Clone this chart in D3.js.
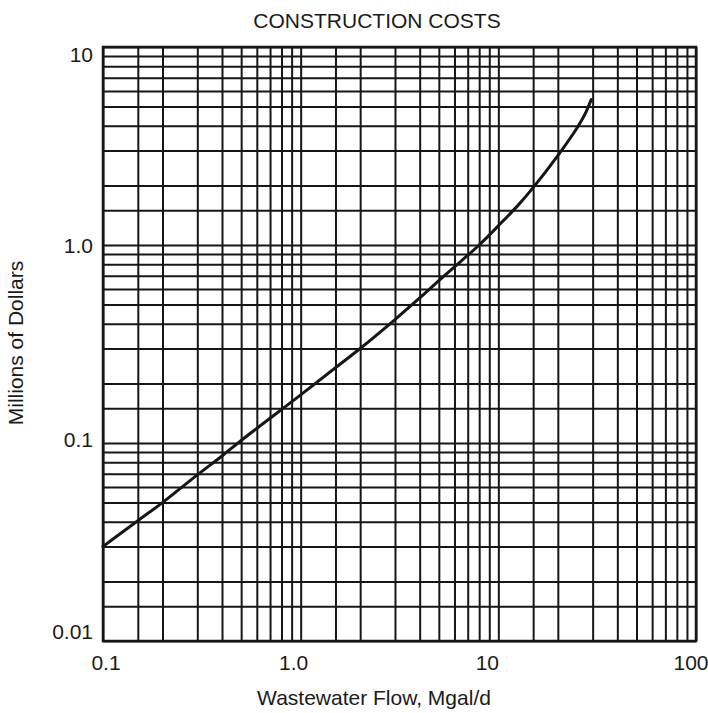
<!DOCTYPE html>
<html>
<head>
<meta charset="utf-8">
<script src="https://cdn.jsdelivr.net/npm/d3@7"></script>
<style>
  html, body { margin: 0; padding: 0; background: #fff; }
  svg { display: block; }
  text { font-family: "Liberation Sans", Arial, Helvetica, sans-serif; fill: #1a1a1a; }
</style>
</head>
<body>
<svg id="chart" width="708" height="713"></svg>
<script>
// Construction cost versus wastewater flow, log-log paper
const flowTicks = [0.1, 1, 10, 100];
const flowTickLabels = ["0.1", "1.0", "10", "100"];
const costTicks = [0.01, 0.1, 1, 10];
const costTickLabels = ["0.01", "0.1", "1.0", "10"];
const gridSteps = [1, 1.5, 2, 3, 4, 5, 6, 7, 8, 9];

// Cost curve: flow (Mgal/d) and cost (millions of dollars)
const flow = [0.1, 0.15, 0.2, 0.3, 0.4, 0.5, 1, 1.5, 2, 3, 4, 5, 6.4, 8, 10, 12.6, 15, 20, 25, 27.5, 29.5];
const cost = [0.03, 0.0405, 0.05, 0.069, 0.086, 0.103, 0.175, 0.24, 0.3, 0.42, 0.54, 0.66, 0.82, 1.0, 1.25, 1.59, 1.95, 2.83, 3.9, 4.6, 5.42];

const svg = d3.select("#chart");
const plot = { left: 103, right: 696, top: 47, bottom: 641 };
const ink = "#161616";

const x = d3.scaleLog().domain([0.1, 100]).range([plot.left, plot.right]);
const y = d3.scaleLog().domain([0.01, 10]).range([plot.bottom, plot.top]);

// grid values: 1, 1.5, 2 ... 9 in each decade, plus the closing decade line
function gridValues(lo, hi) {
  const out = [];
  for (let d = lo; d < hi * 0.999; d *= 10) gridSteps.forEach(s => out.push(+(d * s).toPrecision(6)));
  out.push(hi);
  return out;
}

const xGrid = svg.append("g")
  .attr("transform", `translate(0,${plot.bottom})`)
  .call(d3.axisBottom(x).tickValues(gridValues(0.1, 100)).tickSize(-(plot.bottom - plot.top)).tickFormat(""));
const yGrid = svg.append("g")
  .attr("transform", `translate(${plot.left},0)`)
  .call(d3.axisLeft(y).tickValues(gridValues(0.01, 10)).tickSize(-(plot.right - plot.left)).tickFormat(""));
[xGrid, yGrid].forEach(g => {
  g.select(".domain").remove();
  g.selectAll(".tick line").attr("stroke", ink).attr("stroke-width", 2);
});

// frame
svg.append("rect")
  .attr("x", plot.left).attr("y", plot.top)
  .attr("width", plot.right - plot.left).attr("height", plot.bottom - plot.top)
  .attr("fill", "none").attr("stroke", ink).attr("stroke-width", 2.5);

// cost curve
const line = d3.line()
  .x((d, i) => x(flow[i]))
  .y((d, i) => y(cost[i]))
  .curve(d3.curveCatmullRom.alpha(0.5));
svg.append("path")
  .datum(flow)
  .attr("d", line)
  .attr("fill", "none")
  .attr("stroke", ink)
  .attr("stroke-width", 3)
  .attr("stroke-linecap", "round");

// tick labels (end labels pulled in toward the frame)
const fontSize = 21;
const xNudge = [3, -7, -11, -5];
svg.append("g").selectAll("text").data(flowTicks).join("text")
  .attr("x", (d, i) => x(d) + xNudge[i])
  .attr("y", 670)
  .attr("text-anchor", "middle")
  .style("font-size", fontSize + "px")
  .text((d, i) => flowTickLabels[i]);

const yNudge = [-9, -3, 1, 8];
svg.append("g").selectAll("text").data(costTicks).join("text")
  .attr("x", 93)
  .attr("y", (d, i) => y(d) + yNudge[i])
  .attr("dy", "0.35em")
  .attr("text-anchor", "end")
  .style("font-size", fontSize + "px")
  .text((d, i) => costTickLabels[i]);

// titles
svg.append("text")
  .attr("x", 377).attr("y", 28)
  .attr("text-anchor", "middle")
  .style("font-size", fontSize + "px")
  .text("CONSTRUCTION COSTS");

svg.append("text")
  .attr("x", 374).attr("y", 705)
  .attr("text-anchor", "middle")
  .style("font-size", fontSize + "px")
  .text("Wastewater Flow, Mgal/d");

svg.append("text")
  .attr("transform", "translate(23,343) rotate(-90)")
  .attr("text-anchor", "middle")
  .style("font-size", fontSize + "px")
  .text("Millions of Dollars");
</script>
</body>
</html>
